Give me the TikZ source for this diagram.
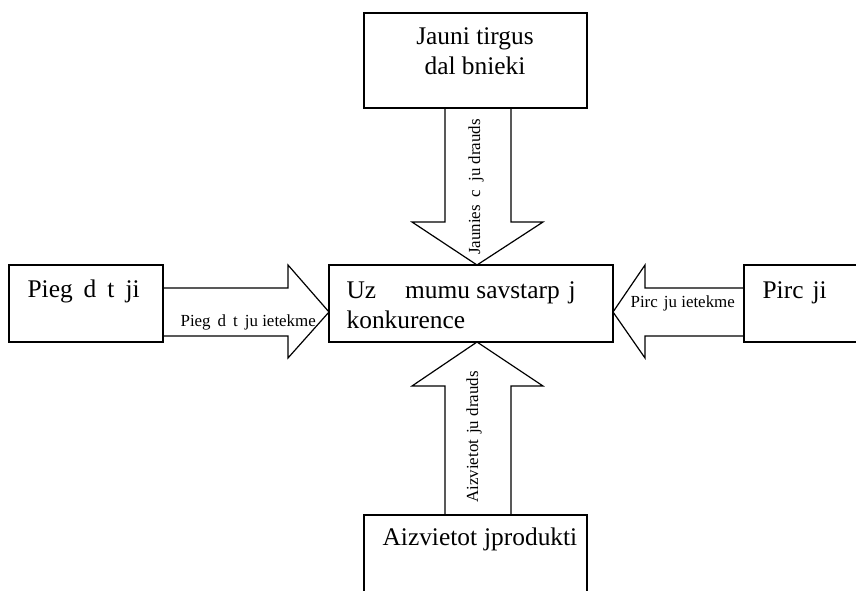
\documentclass[tikz,border=0pt]{standalone}
\usepackage{fontspec}
\setmainfont{Liberation Serif}
\begin{document}
\begin{tikzpicture}[x=1bp,y=-1bp,
  line width=1.2bp, line join=miter,
  boxtext/.style={inner sep=0pt, font=\fontsize{25.5}{30}\selectfont},
  arrowtext/.style={inner sep=0pt, font=\fontsize{17}{20}\selectfont}]
\useasboundingbox (0,0) rectangle (856,591);

% boxes
\draw (364,13) rectangle (587,108);
\draw (329,265) rectangle (613,342);
\draw (9,265) rectangle (163,342);
\draw (870,265) -- (744,265) -- (744,342) -- (870,342);
\draw (364,600) -- (364,515) -- (587,515) -- (587,600);

% block arrows
\draw (445,108) -- (445,222) -- (412,222) -- (477,265) -- (543,222) -- (511,222) -- (511,108);
\draw (445,515) -- (445,386) -- (412,386) -- (477,342) -- (543,386) -- (511,386) -- (511,515);
\draw (163,288) -- (288,288) -- (288,265) -- (329,312) -- (288,358) -- (288,336) -- (163,336);
\draw (744,288) -- (645,288) -- (645,265) -- (613,312) -- (645,358) -- (645,336) -- (744,336);

% box texts
\node[boxtext, anchor=base] (newa) at (475,45) {Jauni tirgus};
\node[boxtext, anchor=base] (newb) at (475,75) {dal bnieki};
\node[boxtext, anchor=base west] (compa) at (346,298) {Uz\hspace{29bp}mumu savstarp\hspace{9bp}j};
\node[boxtext, anchor=base west] (compb) at (346,328) {konkurence};
\node[boxtext, anchor=base west] (supp) at (27,297) {Pieg\hspace{11bp}d\hspace{11bp}t\hspace{11bp}ji};
\node[boxtext, anchor=base west] (buy) at (762,298) {Pirc\hspace{9bp}ji};
\node[boxtext, anchor=base west] (subs) at (382,545) {Aizvietot\hspace{7bp}jprodukti};

% arrow labels
\node[arrowtext, anchor=west] (suppl) at (180,322) {Pieg\hspace{7bp}d\hspace{7bp}t\hspace{7bp}ju ietekme};
\node[arrowtext, anchor=west] (buyl) at (630,303) {Pirc\hspace{6bp}ju ietekme};
\node[arrowtext, rotate=90] (newl) at (476,187) {Jaunies\hspace{8bp}c\hspace{8bp}ju drauds};
\node[arrowtext, rotate=90] (subsl) at (474,437) {Aizvietot\hspace{6bp}ju drauds};
\end{tikzpicture}
\end{document}
